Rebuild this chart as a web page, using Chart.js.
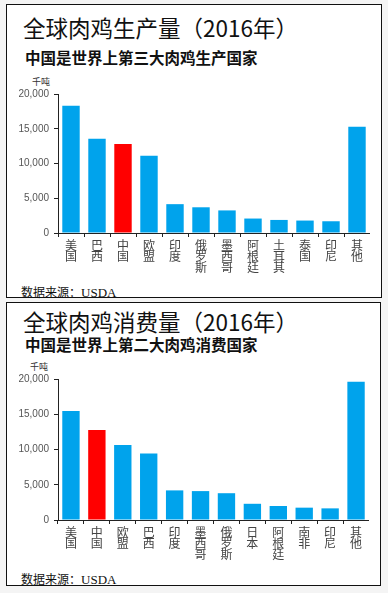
<!DOCTYPE html>
<html>
<head>
<meta charset="utf-8">
<script src="https://cdn.jsdelivr.net/npm/chart.js@4/dist/chart.umd.min.js"></script>
<style>
  html, body { margin: 0; padding: 0; }
  body { width: 388px; height: 593px; background: #f4f4f4; position: relative; overflow: hidden;
         font-family: "Noto Sans CJK SC", "Noto Sans", sans-serif; }
  .panel { position: absolute; background: #fff; border: 1.5px solid #111; box-sizing: border-box; }
  .title { position: absolute; left: 23px; font-size: 22.5px; color: #111; white-space: nowrap; line-height: 1; }
  .sub { position: absolute; left: 25px; font-size: 15.5px; font-weight: bold; color: #111; white-space: nowrap; line-height: 1; }
  .unit { position: absolute; font-size: 9px; color: #333; line-height: 1; }
  .src { position: absolute; left: 21px; font-size: 12px; color: #111; white-space: nowrap; line-height: 1; }
  .src .en { font-family: "Liberation Serif", serif; font-size: 13px; }
  .box { position: absolute; }
</style>
</head>
<body>
<div class="panel" style="left:6px;top:4px;width:376px;height:294px;"></div>
<div class="panel" style="left:6px;top:302px;width:375px;height:284px;"></div>

<div class="title" style="top:16px;">全球肉鸡生产量（2016年）</div>
<div class="sub" style="top:50px;">中国是世界上第三大肉鸡生产国家</div>
<div class="unit" style="left:32px;top:77px;">千吨</div>
<div class="box" style="left:7px;top:80px;width:363px;height:198px;"><canvas id="c1"></canvas></div>
<div class="src" style="top:286px;">数据来源：<span class="en">USDA</span></div>

<div class="title" style="top:310px;">全球肉鸡消费量（2016年）</div>
<div class="sub" style="top:337px;">中国是世界上第二大肉鸡消费国家</div>
<div class="unit" style="left:30px;top:362px;">千吨</div>
<div class="box" style="left:7px;top:365px;width:362px;height:200px;"><canvas id="c2"></canvas></div>
<div class="src" style="top:573px;">数据来源：<span class="en">USDA</span></div>

<script>
const prodCategories = ['美国','巴西','中国','欧盟','印度','俄罗斯','墨西哥','阿根廷','土耳其','泰国','印尼','其他'];
const prodValues = [18300, 13550, 12800, 11100, 4150, 3700, 3250, 2080, 1880, 1790, 1690, 15300];
const consCategories = ['美国','中国','欧盟','巴西','印度','墨西哥','俄罗斯','日本','阿根廷','南非','印尼','其他'];
const consValues = [15450, 12750, 10650, 9450, 4200, 4100, 3800, 2300, 1990, 1750, 1650, 19600];
const yTicks = [0, 5000, 10000, 15000, 20000];

const BLUE = '#00a3ec';
const RED = '#ff0000';

function makeChart(id, cats, vals) {
  const colors = cats.map(c => c === '中国' ? RED : BLUE);
  return new Chart(document.getElementById(id), {
    type: 'bar',
    data: {
      labels: cats.map(c => c.split('')),
      datasets: [{ data: vals, backgroundColor: colors, borderWidth: 0,
                   categoryPercentage: 1, barPercentage: 0.67 }]
    },
    options: {
      responsive: true, maintainAspectRatio: false, animation: false,
      layout: { padding: { top: 14, right: 0, bottom: 0, left: 0 } },
      plugins: { legend: { display: false }, tooltip: { enabled: false } },
      scales: {
        x: {
          grid: { display: true, drawOnChartArea: false, offset: true, tickLength: 4, color: '#222', lineWidth: 1 },
          border: { color: '#222', width: 1 },
          ticks: { color: '#444', font: { size: 12, family: '"Noto Sans CJK SC", sans-serif', lineHeight: 0.92 },
                   padding: 3, maxRotation: 0, autoSkip: false },
          afterFit: s => { s.height = 45; }
        },
        y: {
          min: 0, max: 20000,
          afterBuildTicks: s => { s.ticks = yTicks.map(v => ({ value: v })); },
          grid: { display: true, drawOnChartArea: false, tickLength: 4, color: '#222', lineWidth: 1 },
          border: { color: '#222', width: 1 },
          ticks: { color: '#555', font: { size: 10, family: '"Liberation Sans", sans-serif' }, padding: 5,
                   callback: v => Number(v).toLocaleString('en-US') },
          afterFit: s => { s.width = 51; }
        }
      }
    }
  });
}
makeChart('c1', prodCategories, prodValues);
makeChart('c2', consCategories, consValues);
</script>
</body>
</html>
